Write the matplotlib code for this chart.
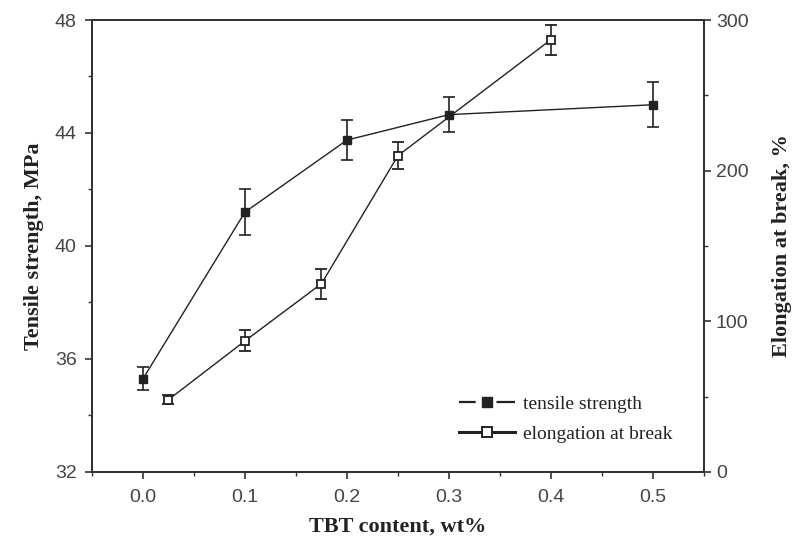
import numpy as np
import matplotlib.pyplot as plt
from matplotlib.lines import Line2D
from matplotlib.ticker import MultipleLocator

# tensile strength (left axis)
ts_x = [0.0, 0.1, 0.2, 0.3, 0.5]
ts_y = [35.3, 41.2, 43.75, 44.65, 45.0]
ts_err = [0.4, 0.8, 0.7, 0.63, 0.8]

# elongation at break (right axis)
el_x = [0.025, 0.1, 0.175, 0.25, 0.4]
el_y = [48, 87, 125, 210, 287]
el_err = [3, 7, 10, 9, 10]

serif = ['Liberation Serif', 'DejaVu Serif']
sans = ['Liberation Sans', 'DejaVu Sans']
ink = '#222222'
tick_col = '#444444'

fig = plt.figure(figsize=(7.95, 5.51), dpi=100)
ax = fig.add_axes([0.1157, 0.1434, 0.7698, 0.8203])
ax2 = ax.twinx()

ax.errorbar(ts_x, ts_y, yerr=ts_err, color=ink, marker='s', ms=6,
            mfc=ink, mec=ink, lw=1, capsize=4, elinewidth=1.2,
            capthick=1.2)
ax2.errorbar(el_x, el_y, yerr=el_err, color=ink, marker='s', ms=6,
             mfc='white', mec=ink, mew=1.3, lw=1, capsize=4,
             elinewidth=1.2, capthick=1.2)

ax.set_xlim(-0.05, 0.55)
ax.set_ylim(32, 48)
ax2.set_ylim(0, 300)

ax.xaxis.set_major_locator(MultipleLocator(0.1))
ax.xaxis.set_minor_locator(MultipleLocator(0.05))
ax.yaxis.set_major_locator(MultipleLocator(4))
ax.yaxis.set_minor_locator(MultipleLocator(2))
ax2.yaxis.set_major_locator(MultipleLocator(100))
ax2.yaxis.set_minor_locator(MultipleLocator(50))
ax.xaxis.set_major_formatter(plt.FuncFormatter(lambda v, p: f'{v:.1f}'))

for a in (ax, ax2):
    for s in a.spines.values():
        s.set_linewidth(1.4)
        s.set_color('#333333')
    a.tick_params(which='major', direction='out', length=5, width=1.2,
                  colors='#333333', labelcolor=tick_col, labelsize=14)
    a.tick_params(which='minor', direction='out', length=3, width=1.0,
                  colors='#333333')
    for lab in a.get_xticklabels() + a.get_yticklabels():
        lab.set_family(sans)
ax.tick_params(axis='x', pad=7)
ax.tick_params(axis='y', which='major', pad=6)

ax.set_xlabel('TBT content, wt%', family=serif, fontweight='bold',
              fontsize=16, labelpad=8, color=ink)
ax.set_ylabel('Tensile strength, MPa', family=serif, fontweight='bold',
              fontsize=16, labelpad=8, color=ink)
ax2.set_ylabel('Elongation at break, %', family=serif, fontweight='bold',
               fontsize=16, labelpad=17, color=ink)

# legend handles without error bars; dashes are scaled by the line width
lw1 = 1.6
h1 = Line2D([], [], color=ink, lw=lw1,
            ls=(0, (12 / lw1, 15 / lw1, 14 / lw1, 5)),
            marker='s', ms=7, mfc=ink, mec=ink)
h2 = Line2D([], [], color=ink, lw=2.2, ls='-', marker='s',
            ms=7, mfc='white', mec=ink, mew=1.4)
leg = ax2.legend([h1, h2], ['tensile strength', 'elongation at break'],
                 loc='lower right', bbox_to_anchor=(0.977, 0.025),
                 frameon=False, handlelength=2.9, handletextpad=0.4,
                 labelspacing=0.65, prop={'family': serif, 'size': 14})
for t in leg.get_texts():
    t.set_color(ink)

fig.savefig('out.png', dpi=100)
